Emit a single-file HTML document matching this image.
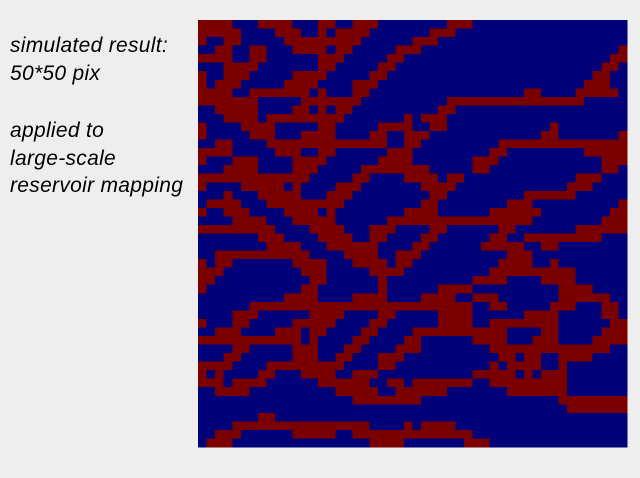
<!DOCTYPE html>
<html><head><meta charset="utf-8"><style>
html,body{margin:0;padding:0;background:#eeeeee;width:640px;height:478px;overflow:hidden;position:relative}
.t{position:absolute;left:10px;font-family:"Liberation Sans",sans-serif;font-style:italic;font-size:21px;color:#000;white-space:nowrap;letter-spacing:0.3px}
svg{position:absolute;left:0;top:0}
</style></head><body>
<div class="t" style="top:34px">simulated result:</div>
<div class="t" style="top:62px">50*50 pix</div>
<div class="t" style="top:119px">applied to</div>
<div class="t" style="top:147px">large-scale</div>
<div class="t" style="top:174px">reservoir mapping</div>
<svg id="map" width="640" height="478" shape-rendering="crispEdges"></svg>
<script>
const gridRows = [
"11110001111000110011100000000111000000000000000000",
"11111000011100101111000000011100000000000000000000",
"10011000001111111110000001110000000000000000000000",
"00110011000111101100000111000000000000000000000001",
"11110011000000111000001100000000000000000000000011",
"00011110000000110000011000000000000000000000000110",
"10011100000111100000110000000000000000000000001100",
"10111000001111000011100000000000000000000000011100",
"11110011111110100011000000000000000000110000111110",
"11111110000011111110000000000111111111111111100000",
"00111110000110101100000000001100000000000000000000",
"00011110111111111000000010111000000000000000000000",
"10000111100000110000011110011000000000000100000000",
"10000011100011110000110011100000000000001100000001",
"00110000111111111111110011000000000111111111111111",
"11110000011100110000001110000000001100000000011111",
"10001110000111100000011110000000111000000000000111",
"00011110000111000001111111100000110000000000000110",
"11111111111110000011000011110110000000000000111000",
"10000111110100001110000000111100000000000001110000",
"00010001111100011100000000011000000000111111000000",
"01111000111111111000000000110000000011100000000001",
"10011100001111010000000011110000001111110000000011",
"00001111000111110000001111111111111111100000000111",
"11111111100001111000111000011000000110000000111111",
"00000001110000111100110000110000001100111111111000",
"00000000111100011111100001100000011111001100000000",
"00111111111110000111100111000000000011100000000000",
"10110000000111100011110110000000000111100100000000",
"11100000000011100000111100000000001111111111000000",
"11000000000001100000010000000000111100001111000000",
"10000000000011000000010000001111000000000011110000",
"00000000001111000011110000111100111000000011111100",
"00000011111111111111111111111111001100000111000110",
"00001110000001111000011000001111000000111100000110",
"10001100000111110000110000001111001111111100000011",
"00111000011101100001100001111111111100001100000111",
"11111111111101000011000011000000111100011100001111",
"00001100000111000110000111000000001111111111111100",
"00011000000111001100011100000000000110110011110000",
"11110000111111111000011000000000001011110010000000",
"10100001100011110011100000000000111110101110000000",
"11101111000000111111001101111111001111111110000000",
"00111100000000001111100111111000000011111110000000",
"00000000000000000011111111000000000000000011111111",
"00000000000000000000000000000000000000000001111111",
"00000001100000000000000000000000000000000000000000",
"00001111111111111111000010111100000000000000000000",
"00111000000111110011111111111111000000000000000000",
"01110000000000000000111100000001110000000000000000"
];
const colorRed = "#7a0000";
const colorBlue = "#000078";
const gx0 = 198, gy0 = 20, cw = 8.58, ch = 8.54;
const svg = document.getElementById('map');
const NS = "http://www.w3.org/2000/svg";
const xScale = c => gx0 + c * cw;
const yScale = r => gy0 + r * ch;
gridRows.forEach((row, r) => {
  for (let c = 0; c < row.length; c++) {
    const rect = document.createElementNS(NS, 'rect');
    
    
    const x = xScale(c), y = yScale(r);
    rect.setAttribute('x', x.toFixed(2));
    rect.setAttribute('y', y.toFixed(2));
    rect.setAttribute('width', (xScale(c + 1) - x + 0.4).toFixed(2));
    rect.setAttribute('height', (yScale(r + 1) - y + 0.4).toFixed(2));
    rect.setAttribute('fill', row[c] === '1' ? colorRed : colorBlue);
    svg.appendChild(rect);
  }
});
</script>
</body></html>
